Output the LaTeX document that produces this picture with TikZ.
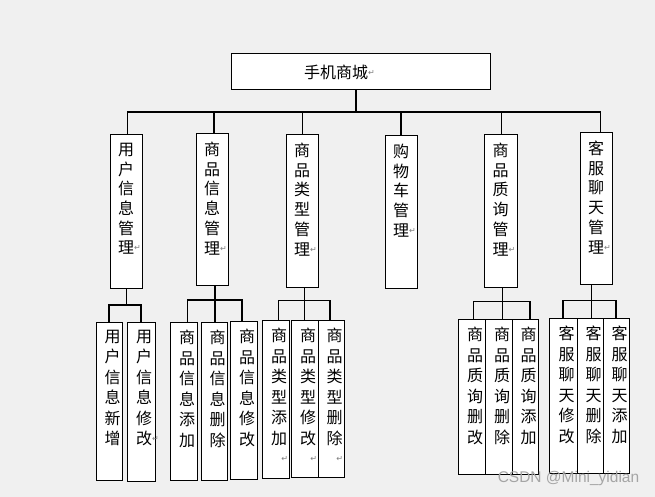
\documentclass[tikz,border=0pt]{standalone}
\usepackage{fontspec}
\setmainfont{Noto Sans CJK SC}
\newfontfamily\symf{DejaVu Sans}
\newfontfamily\wmf{Liberation Sans}
\definecolor{bg}{RGB}{240,240,240}
\definecolor{retc}{RGB}{125,125,125}
\definecolor{wmc}{RGB}{165,165,165}
\newcommand\retmk{\raisebox{3pt}{\symf\fontsize{8}{8}\selectfont\color{retc}↵}}
% width, height, left shift, baselineskip, content
\newcommand\vcol[5]{\parbox[t][#2][t]{#1}{\centering\leftskip=#3 plus 1fil\fontsize{16}{#4}\selectfont\vspace*{8pt}#5}}
\begin{document}
\begin{tikzpicture}[x=1pt,y=-1pt,
  box/.style={draw=black,fill=white,line width=1pt,inner sep=0pt,outer sep=0pt,anchor=north west},
  conn/.style={draw=black,line width=1.2pt},
  wm/.style={text=wmc,font=\wmf\fontsize{15.5}{16}\selectfont,inner sep=0pt}]
\fill[bg] (0,0) rectangle (655,497);
\useasboundingbox (0,0) rectangle (655,497);
% top
\node[box,minimum width=259pt,minimum height=36pt] (top) at (231,54)
  {\makebox[259pt][l]{\hspace{73pt}\fontsize{16}{16}\selectfont 手机商城\retmk}};
% level 2
\node[box] (u1) at (110,135) {\vcol{32pt}{153pt}{0pt}{19.7pt}{用\\户\\信\\息\\管\\理\rlap{\retmk}}};
\node[box] (u2) at (196,134) {\vcol{32pt}{151pt}{0pt}{19.7pt}{商\\品\\信\\息\\管\\理\rlap{\retmk}}};
\node[box] (u3) at (286,135) {\vcol{32pt}{152pt}{0pt}{19.7pt}{商\\品\\类\\型\\管\\理\rlap{\retmk}}};
\node[box] (u4) at (385,136) {\vcol{32pt}{152pt}{0pt}{19.7pt}{购\\物\\车\\管\\理\rlap{\retmk}}};
\node[box] (u5) at (484,135) {\vcol{33pt}{152pt}{0pt}{19.7pt}{商\\品\\质\\询\\管\\理\rlap{\retmk}}};
\node[box] (u6) at (580,133) {\vcol{32pt}{151pt}{0pt}{19.7pt}{客\\服\\聊\\天\\管\\理\rlap{\retmk}}};
% level 3
\node[box] (a1) at (96,322)  {\vcol{26pt}{158pt}{7pt}{20.5pt}{用\\户\\信\\息\\新\\增}};
\node[box] (a2) at (127,322) {\vcol{28pt}{159pt}{6pt}{20.5pt}{用\\户\\信\\息\\修\\改\rlap{\retmk}}};
\node[box] (b1) at (170,322) {\vcol{27pt}{158pt}{7pt}{20.5pt}{商\\品\\信\\息\\添\\加}};
\node[box] (b2) at (201,322) {\vcol{26pt}{158pt}{7pt}{20.5pt}{商\\品\\信\\息\\删\\除}};
\node[box] (b3) at (230,321) {\vcol{27pt}{158pt}{7pt}{20.5pt}{商\\品\\信\\息\\修\\改}};
\node[box] (c1) at (262,320) {\vcol{27pt}{158pt}{7pt}{20.5pt}{商\\品\\类\\型\\添\\加\\\hfill\retmk\hspace*{1pt}}};
\node[box] (c2) at (291,320) {\vcol{27pt}{157pt}{7pt}{20.5pt}{商\\品\\类\\型\\修\\改\\\hfill\retmk\hspace*{1pt}}};
\node[box] (c3) at (318,320) {\vcol{26pt}{157pt}{7pt}{20.5pt}{商\\品\\类\\型\\删\\除\\\hfill\retmk\hspace*{1pt}}};
\node[box] (d1) at (458,319) {\vcol{27pt}{155pt}{7pt}{20.5pt}{商\\品\\质\\询\\删\\改}};
\node[box] (d2) at (485,319) {\vcol{27pt}{155pt}{7pt}{20.5pt}{商\\品\\质\\询\\删\\除}};
\node[box] (d3) at (512,319) {\vcol{26pt}{155pt}{7pt}{20.5pt}{商\\品\\质\\询\\添\\加}};
\node[box] (e1) at (549,318) {\vcol{28pt}{155pt}{7pt}{20.5pt}{客\\服\\聊\\天\\修\\改}};
\node[box] (e2) at (577,318) {\vcol{26pt}{155pt}{7pt}{20.5pt}{客\\服\\聊\\天\\删\\除}};
\node[box] (e3) at (603,318) {\vcol{26pt}{155pt}{7pt}{20.5pt}{客\\服\\聊\\天\\添\\加}};
% connectors top -> level 2
\coordinate (bus) at (356,112);
\draw[conn] (top.south -| bus) -- (bus);
\draw[conn] ([xshift=1.5pt]u1.north) |- (bus) -| ([xshift=4.5pt]u6.north);
\foreach \n/\d in {u2/2,u3/0.5,u4/0,u5/1}
  \draw[conn] ([xshift=\d pt]\n.north) -- ([xshift=\d pt]\n.north |- bus);
% group a
\coordinate (ja) at (126.7,305);
\draw[conn] (u1.south -| ja) -- (ja);
\draw[conn] (a1.north) |- (ja) -| (a2.north);
% group b
\coordinate (jb) at (215,300);
\draw[conn] (u2.south -| jb) -- (b2.north -| jb);
\draw[conn] ([xshift=4pt]b1.north) |- (jb) -| ([xshift=-1.5pt]b3.north);
% group c
\coordinate (jc) at (304.3,300.7);
\draw[conn] (u3.south -| jc) -- (c2.north -| jc);
\draw[conn] ([xshift=3pt]c1.north) |- (jc) -| ([xshift=-1pt]c3.north);
% group d
\coordinate (jd) at (502.3,301.7);
\draw[conn] (u5.south -| jd) -- (d2.north -| jd);
\draw[conn] ([xshift=2pt]d1.north) |- (jd) -| ([xshift=5pt]d3.north);
% group e
\coordinate (je) at (591.7,300.7);
\draw[conn] (u6.south -| je) -- (e2.north -| je);
\draw[conn] (e1.north) |- (je) -| (e3.north);
% watermark
\node[wm] (wmk) at (568.5,478.5) {CSDN @Mini\_yidian};
\end{tikzpicture}
\end{document}
